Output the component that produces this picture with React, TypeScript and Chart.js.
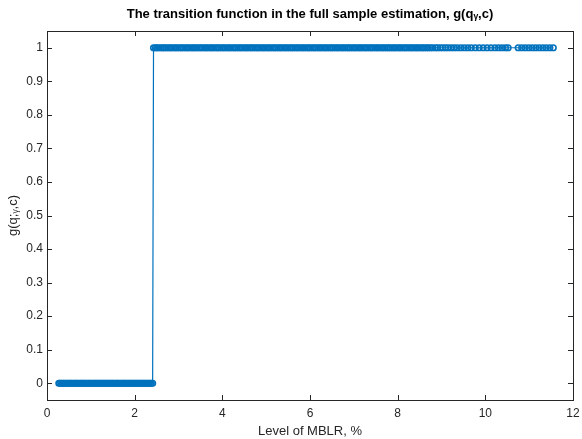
import React, { useEffect, useRef } from "react";
import { Chart, registerables } from "chart.js";

Chart.register(...registerables);

const TITLE = "The transition function in the full sample estimation, g(qᵧ,c)";
const X_LABEL = "Level of MBLR, %";
const Y_LABEL = "g(q;ᵧ,c)";

const xTicks = [0, 2, 4, 6, 8, 10, 12];
const yTicks = [0, 0.1, 0.2, 0.3, 0.4, 0.5, 0.6, 0.7, 0.8, 0.9, 1];

// MBLR levels in the low regime (g = 0)
const lowRegimeX = [
  0.27, 0.29, 0.32, 0.34, 0.37, 0.39, 0.42, 0.45, 0.47, 0.5, 0.52, 0.55, 0.57, 0.6, 0.63,
  0.65, 0.68, 0.7, 0.73, 0.76, 0.78, 0.81, 0.83, 0.86, 0.88, 0.91, 0.94, 0.96, 0.99, 1.01,
  1.04, 1.07, 1.09, 1.12, 1.14, 1.17, 1.19, 1.22, 1.25, 1.27, 1.3, 1.32, 1.35, 1.38, 1.4,
  1.43, 1.45, 1.48, 1.5, 1.53, 1.56, 1.58, 1.61, 1.63, 1.66, 1.69, 1.71, 1.74, 1.76, 1.79,
  1.81, 1.84, 1.87, 1.89, 1.92, 1.94, 1.97, 2.0, 2.02, 2.05, 2.07, 2.1, 2.12, 2.15, 2.18,
  2.2, 2.23, 2.25, 2.28, 2.31, 2.33, 2.36, 2.38, 2.41,
];
const lowRegimeG = 0;

// MBLR levels in the high regime (g = 1)
const highRegimeX = [
  2.43, 2.47, 2.51, 2.55, 2.6, 2.64, 2.68, 2.72, 2.77, 2.81, 2.85, 2.9, 2.94, 2.98, 3.03,
  3.07, 3.11, 3.16, 3.2, 3.24, 3.29, 3.33, 3.37, 3.41, 3.46, 3.5, 3.54, 3.59, 3.63, 3.67,
  3.72, 3.76, 3.8, 3.85, 3.89, 3.93, 3.98, 4.02, 4.06, 4.11, 4.15, 4.19, 4.24, 4.28, 4.32,
  4.37, 4.41, 4.45, 4.5, 4.54, 4.58, 4.63, 4.67, 4.71, 4.76, 4.8, 4.84, 4.89, 4.93, 4.97,
  5.02, 5.06, 5.1, 5.15, 5.19, 5.23, 5.28, 5.32, 5.36, 5.41, 5.45, 5.49, 5.54, 5.58, 5.62,
  5.67, 5.71, 5.75, 5.8, 5.84, 5.88, 5.93, 5.97, 6.01, 6.06, 6.1, 6.14, 6.19, 6.23, 6.27,
  6.32, 6.36, 6.4, 6.45, 6.49, 6.53, 6.58, 6.62, 6.66, 6.71, 6.75, 6.79, 6.84, 6.88, 6.92,
  6.97, 7.01, 7.05, 7.1, 7.14, 7.18, 7.23, 7.27, 7.31, 7.36, 7.4, 7.44, 7.49, 7.53, 7.57,
  7.62, 7.66, 7.7, 7.75, 7.79, 7.83, 7.88, 7.92, 7.96, 8.01, 8.05, 8.09, 8.14, 8.18, 8.22,
  8.27, 8.31, 8.35, 8.4, 8.44, 8.48, 8.53, 8.57, 8.61, 8.66, 8.7, 8.75, 8.8, 8.86, 8.91,
  8.97, 9.03, 9.09, 9.15, 9.22, 9.29, 9.36, 9.44, 9.52, 9.6, 9.68, 9.77, 9.86, 9.95, 10.04,
  10.13, 10.22, 10.3, 10.38, 10.46, 10.52, 10.75, 10.83, 10.91, 10.99, 11.07, 11.15, 11.23,
  11.31, 11.39, 11.47, 11.55,
];
const highRegimeG = 1;

const BLUE = "#0072BD";
const FONT = "'Liberation Sans', Arial, sans-serif";

export default function App() {
  const ref = useRef<HTMLCanvasElement | null>(null);

  useEffect(() => {
    if (!ref.current) return;
    const points = [
      ...lowRegimeX.map((x) => ({ x, y: lowRegimeG })),
      ...highRegimeX.map((x) => ({ x, y: highRegimeG })),
    ];

    const framePlugin = {
      id: "frame",
      afterDraw(chart: any) {
        const { ctx, chartArea: a, scales } = chart;
        ctx.save();
        ctx.strokeStyle = "#262626";
        ctx.lineWidth = 1;
        ctx.strokeRect(Math.round(a.left) + 0.5, Math.round(a.top) + 0.5, Math.round(a.right - a.left), Math.round(a.bottom - a.top));
        const tl = 5;
        ctx.beginPath();
        for (const v of xTicks) {
          const px = Math.round(scales.x.getPixelForValue(v)) + 0.5;
          ctx.moveTo(px, a.bottom);
          ctx.lineTo(px, a.bottom - tl);
          ctx.moveTo(px, a.top);
          ctx.lineTo(px, a.top + tl);
        }
        for (const v of yTicks) {
          const py = Math.round(scales.y.getPixelForValue(v)) + 0.5;
          ctx.moveTo(a.left, py);
          ctx.lineTo(a.left + tl, py);
          ctx.moveTo(a.right, py);
          ctx.lineTo(a.right - tl, py);
        }
        ctx.stroke();
        // titles
        ctx.fillStyle = "#000";
        ctx.textAlign = "center";
        ctx.textBaseline = "middle";
        ctx.font = `bold 13px ${FONT}`;
        ctx.fillText(TITLE, (a.left + a.right) / 2, 14);
        ctx.fillStyle = "#262626";
        ctx.font = `13px ${FONT}`;
        ctx.fillText(X_LABEL, (a.left + a.right) / 2, 431);
        ctx.translate(13, (a.top + a.bottom) / 2);
        ctx.rotate(-Math.PI / 2);
        ctx.fillText(Y_LABEL, 0, 0);
        ctx.restore();
      },
    };

    const chart = new Chart(ref.current, {
      type: "line",
      data: {
        datasets: [
          {
            data: points,
            borderColor: BLUE,
            backgroundColor: "rgba(0,0,0,0)",
            borderWidth: 1.2,
            pointRadius: 2.8,
            pointBorderWidth: 1.6,
            pointBorderColor: BLUE,
            pointBackgroundColor: "rgba(0,0,0,0)",
            tension: 0,
          },
        ],
      },
      options: {
        animation: false,
        responsive: false,
        parsing: false as any,
        layout: { padding: { top: 31, right: 9, left: 0, bottom: 0 } },
        plugins: { legend: { display: false }, tooltip: { enabled: false }, title: { display: false } },
        scales: {
          x: {
            type: "linear",
            min: 0,
            max: 12,
            afterBuildTicks: (axis: any) => {
              axis.ticks = xTicks.map((value) => ({ value }));
            },
            afterFit: (s: any) => {
              s.height = 39;
              s.paddingLeft = 0;
              s.paddingRight = 0;
            },
            grid: { display: false, drawTicks: false },
            border: { display: false },
            ticks: { color: "#262626", font: { family: FONT, size: 12 }, padding: 6, maxRotation: 0 },
          },
          y: {
            type: "linear",
            min: -0.05,
            max: 1.05,
            afterBuildTicks: (axis: any) => {
              axis.ticks = yTicks.map((value) => ({ value }));
            },
            afterFit: (s: any) => {
              s.width = 47;
              s.paddingTop = 0;
              s.paddingBottom = 0;
            },
            grid: { display: false, drawTicks: false },
            border: { display: false },
            ticks: {
              color: "#262626",
              font: { family: FONT, size: 12 },
              padding: 4,
              callback: (v: any) => String(Math.round(Number(v) * 10) / 10),
            },
          },
        },
      },
      plugins: [framePlugin],
    });
    return () => chart.destroy();
  }, []);

  return (
    <div style={{ position: "fixed", left: 0, top: 0, width: 582, height: 439, background: "#fff" }}>
      <canvas ref={ref} width={582} height={439} style={{ width: 582, height: 439 }} />
    </div>
  );
}
